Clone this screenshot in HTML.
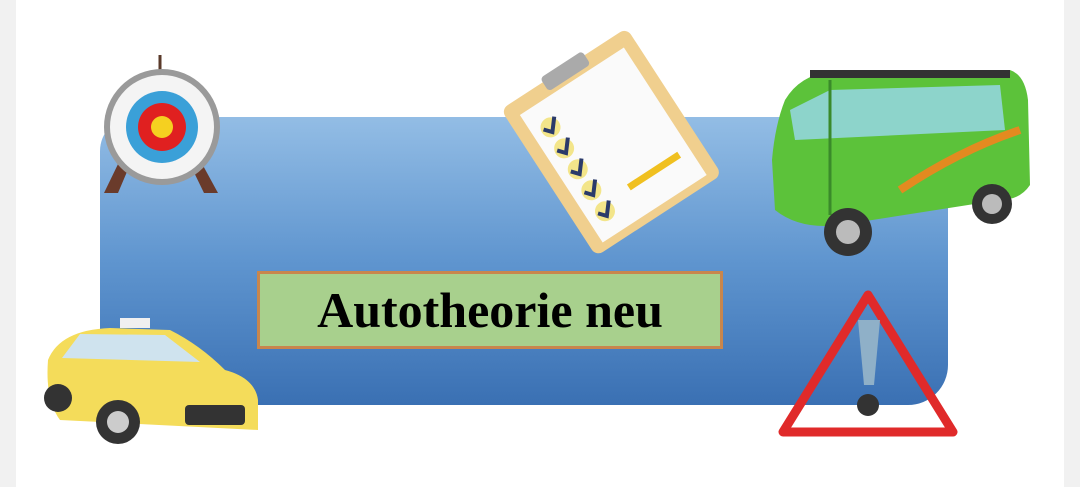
<!DOCTYPE html>
<html><head><meta charset="utf-8"><style>
html,body{margin:0;padding:0;width:1080px;height:487px;overflow:hidden;background:#f1f1f1}
#card{position:absolute;left:16px;top:0;width:1048px;height:487px;background:#fff}
#panel{position:absolute;left:100px;top:117px;width:848px;height:288px;border-radius:34px 0 40px 34px;background:linear-gradient(#93bde5,#5f95cf 50%,#3a70b3)}
#label{position:absolute;left:257px;top:271px;width:460px;height:72px;background:#a8d08d;border:3px solid #c8864d;display:flex;align-items:center;justify-content:center;font-family:"Liberation Serif",serif;font-size:50px;font-weight:bold;color:#000}
svg{position:absolute;left:0;top:0}
</style></head><body>
<div id="card"></div>
<div id="panel"></div>
<div id="label">Autotheorie neu</div>
<svg width="1080" height="487">
 <g>
  <line x1="160" y1="55" x2="160" y2="120" stroke="#5a3a2a" stroke-width="3"/>
  <polygon points="120,160 132,160 118,193 104,193" fill="#6a3b2b"/>
  <polygon points="188,160 200,160 218,193 204,193" fill="#6a3b2b"/>
  <circle cx="162" cy="127" r="58" fill="#9a9a9a"/>
  <circle cx="162" cy="127" r="52" fill="#f4f4f4"/>
  <circle cx="162" cy="127" r="36" fill="#3aa0d8"/>
  <circle cx="162" cy="127" r="24" fill="#e02020"/>
  <circle cx="162" cy="127" r="11" fill="#f5d020"/>
 </g>
 <g transform="rotate(-33 610 140)">
  <rect x="535" y="55" width="150" height="175" rx="8" fill="#f0cf8e"/>
  <rect x="548" y="70" width="124" height="152" fill="#fafafa"/>
  <rect x="585" y="50" width="50" height="16" rx="4" fill="#aaa"/>
  <g fill="#f3e58a"><circle cx="567" cy="97" r="10"/><circle cx="567" cy="122" r="10"/><circle cx="567" cy="147" r="10"/><circle cx="567" cy="172" r="10"/><circle cx="567" cy="197" r="10"/></g>
  <g stroke="#2a3a6a" stroke-width="4" fill="none">
   <path d="M560 95 l6 7 l10 -12"/><path d="M560 120 l6 7 l10 -12"/><path d="M560 145 l6 7 l10 -12"/><path d="M560 170 l6 7 l10 -12"/><path d="M560 195 l6 7 l10 -12"/>
  </g>
  <line x1="600" y1="190" x2="660" y2="190" stroke="#f0c020" stroke-width="7"/>
 </g>
 <g>
  <path d="M785 100 Q800 75 830 72 L1010 70 Q1025 75 1028 100 L1030 185 Q1020 200 1000 200 L840 225 Q800 230 775 210 L772 160 Q775 125 785 100Z" fill="#5cc23a"/>
  <path d="M790 110 L830 90 L1000 85 L1005 130 L795 140Z" fill="#9ad8f0" opacity=".8"/>
  <path d="M830 80 L830 215" stroke="#3a8a2a" stroke-width="3"/>
  <rect x="810" y="70" width="200" height="8" fill="#333"/>
  <circle cx="848" cy="232" r="24" fill="#333"/><circle cx="848" cy="232" r="12" fill="#bbb"/>
  <circle cx="992" cy="204" r="20" fill="#333"/><circle cx="992" cy="204" r="10" fill="#bbb"/>
  <path d="M900 190 Q960 150 1020 130" stroke="#e38a20" stroke-width="8" fill="none"/>
 </g>
 <g>
  <path d="M48 360 Q60 330 110 328 L170 330 Q200 345 225 370 Q255 378 258 400 L258 430 L60 420 Q45 400 48 360Z" fill="#f4dc5a"/>
  <rect x="120" y="318" width="30" height="10" fill="#f0f0f0"/>
  <path d="M62 358 L80 334 L165 335 L200 362Z" fill="#cfe3ee"/>
  <rect x="185" y="405" width="60" height="20" rx="4" fill="#333"/>
  <circle cx="118" cy="422" r="22" fill="#333"/><circle cx="118" cy="422" r="11" fill="#ccc"/>
  <circle cx="58" cy="398" r="14" fill="#333"/>
 </g>
 <g>
  <path d="M868 295 L953 432 L783 432Z" fill="none" stroke="#e02a2a" stroke-width="9" stroke-linejoin="round"/>
  <path d="M858 320 L880 320 L874 385 L864 385Z" fill="#8fb0c8"/>
  <circle cx="868" cy="405" r="11" fill="#333"/>
 </g>
</svg>
</body></html>
